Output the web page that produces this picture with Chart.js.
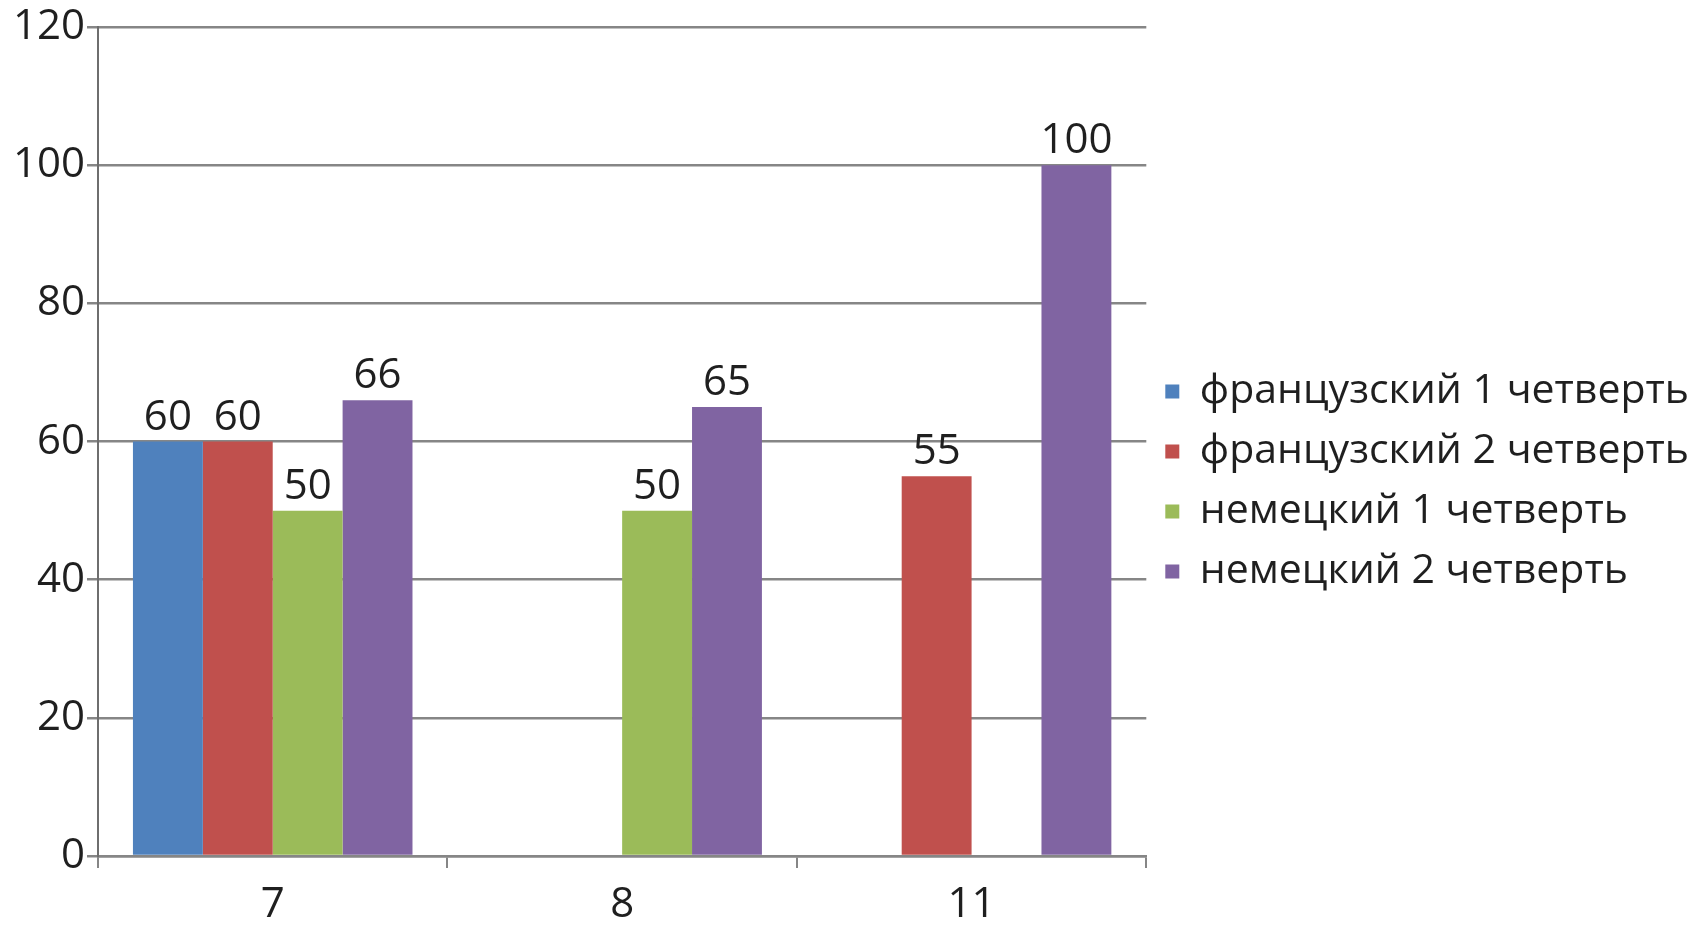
<!DOCTYPE html>
<html>
<head>
<meta charset="utf-8">
<script src="https://cdn.jsdelivr.net/npm/chart.js@4.4.1/dist/chart.umd.min.js"></script>
<style>
  html, body { margin: 0; padding: 0; background: #fff; }
  #wrap { width: 1707px; height: 926px; }
</style>
</head>
<body>
<div id="wrap"><canvas id="chart"></canvas></div>
<script>
// Данные диаграммы
const classes = ['7', '8', '11'];
const french1 = [60, null, null];
const french2 = [60, null, 55];
const german1 = [50, 50, null];
const german2 = [66, 65, 100];

const seriesNames = ['французский 1 четверть', 'французский 2 четверть', 'немецкий 1 четверть', 'немецкий 2 четверть'];
const seriesColors = ['#4F81BD', '#C0504D', '#9BBB59', '#8064A2'];

const FONT = "'Open Sans', 'Liberation Sans', sans-serif";
const TEXT = '#1f1f1f';
const GRID = '#868686';

// Подписи значений над столбцами
const valueLabels = {
  id: 'valueLabels',
  afterDatasetsDraw(chart) {
    const ctx = chart.ctx;
    ctx.save();
    ctx.font = '42px ' + FONT;
    ctx.fillStyle = TEXT;
    ctx.textAlign = 'center';
    ctx.textBaseline = 'alphabetic';
    chart.data.datasets.forEach((ds, i) => {
      chart.getDatasetMeta(i).data.forEach((bar, j) => {
        const v = ds.data[j];
        if (v === null || v === undefined) return;
        ctx.fillText(String(v), bar.x, bar.y - 12);
      });
    });
    ctx.restore();
  }
};

const datasets = [french1, french2, german1, german2].map((d, i) => ({
  label: seriesNames[i],
  data: d,
  backgroundColor: seriesColors[i],
  borderWidth: 0,
  categoryPercentage: 0.8,
  barPercentage: 1.0
}));

new Chart(document.getElementById('chart'), {
  type: 'bar',
  data: { labels: classes, datasets: datasets },
  options: {
    responsive: true,
    maintainAspectRatio: false,
    animation: false,
    layout: { padding: { top: 3, left: 0, right: 8, bottom: 0 } },
    plugins: {
      tooltip: { enabled: false },
      legend: {
        position: 'right',
        maxWidth: 600,
        title: { display: true, text: ' ', font: { size: 10 }, padding: { top: 11, bottom: 11 } },
        labels: {
          font: { family: FONT, size: 41 },
          color: TEXT,
          boxWidth: 14,
          boxHeight: 14,
          padding: 19
        }
      }
    },
    scales: {
      x: {
        grid: { display: true, offset: true, drawOnChartArea: false, drawTicks: true, tickLength: 12, color: GRID, lineWidth: 2 },
        border: { color: GRID, width: 2.5 },
        ticks: { font: { family: FONT, size: 42 }, color: TEXT, padding: 12 },
        afterFit: s => { s.height = 70; }
      },
      y: {
        min: 0,
        max: 120,
        ticks: { stepSize: 20, font: { family: FONT, size: 42 }, color: TEXT, padding: 2 },
        grid: { color: GRID, lineWidth: 2.5, tickLength: 11 },
        border: { color: '#6e6e6e', width: 2 },
        afterFit: s => { s.width = 98; }
      }
    }
  },
  plugins: [valueLabels]
});
</script>
</body>
</html>
